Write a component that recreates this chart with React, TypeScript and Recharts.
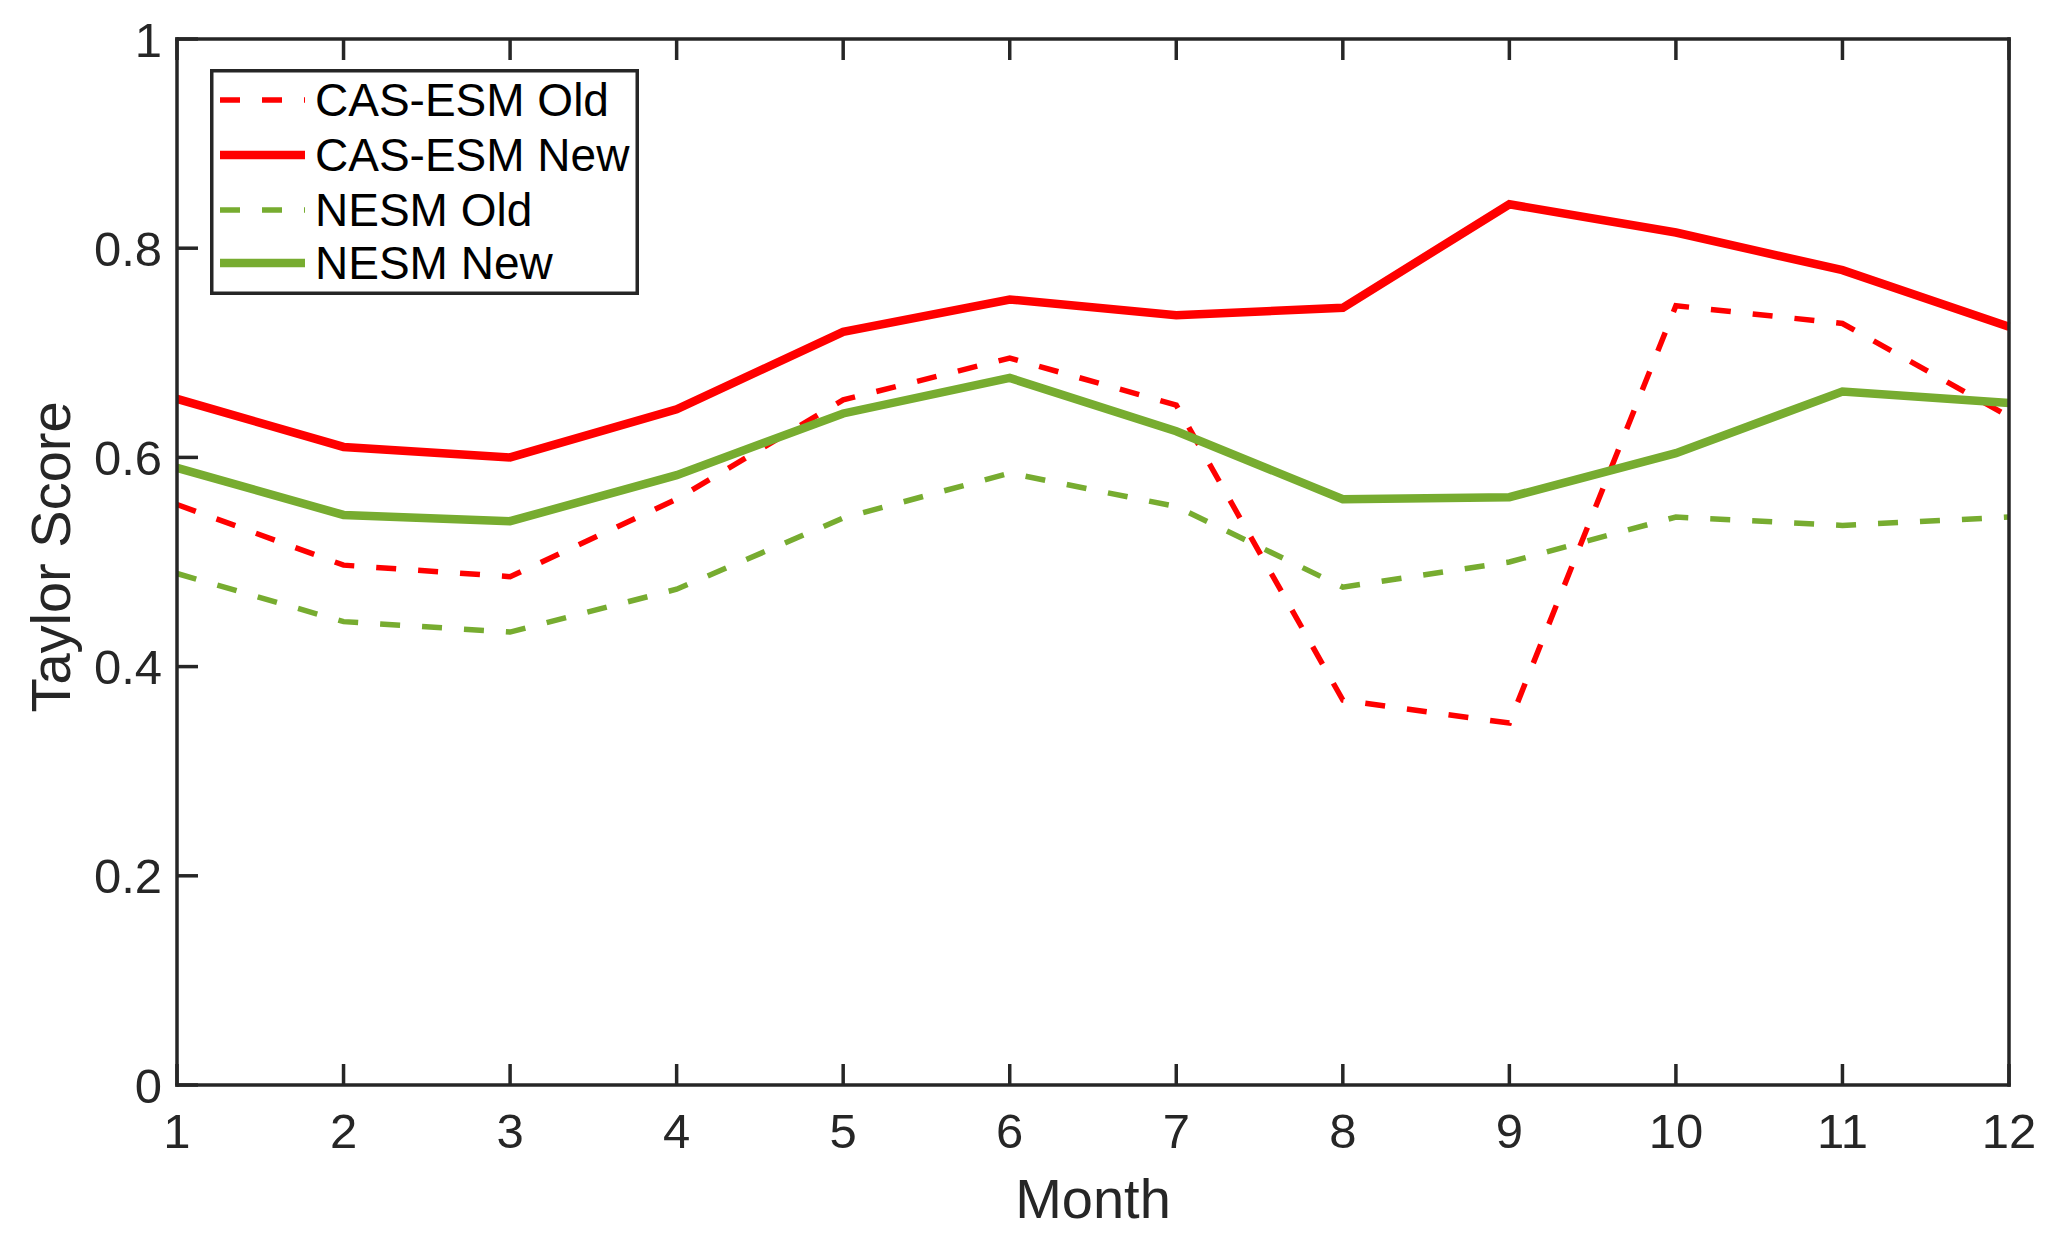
import React from 'react';
import { LineChart, Line, XAxis, YAxis, Legend } from 'recharts';

const months = [1, 2, 3, 4, 5, 6, 7, 8, 9, 10, 11, 12];
const casEsmOld = [0.555, 0.497, 0.486, 0.56, 0.655, 0.695, 0.65, 0.368, 0.346, 0.745, 0.728, 0.639];
const casEsmNew = [0.656, 0.61, 0.6, 0.646, 0.72, 0.751, 0.736, 0.743, 0.842, 0.815, 0.779, 0.725];
const nesmOld = [0.489, 0.443, 0.433, 0.474, 0.542, 0.585, 0.553, 0.476, 0.5, 0.543, 0.535, 0.543];
const nesmNew = [0.59, 0.545, 0.539, 0.583, 0.642, 0.676, 0.625, 0.56, 0.562, 0.604, 0.663, 0.652];
const yTicks = [0, 0.2, 0.4, 0.6, 0.8, 1];
const seriesNames = ['CAS-ESM Old', 'CAS-ESM New', 'NESM Old', 'NESM New'];
const xLabel = 'Month';
const yLabel = 'Taylor Score';

const data = months.map((m, i) => ({
  month: m,
  casOld: casEsmOld[i],
  casNew: casEsmNew[i],
  nesmOld: nesmOld[i],
  nesmNew: nesmNew[i],
}));

const AXIS = '#262626';
const RED = '#FF0000';
const GREEN = '#77AC30';
const FONT = '"Liberation Sans", Arial, Helvetica, sans-serif';
const TICK_LEN = 21;
const AXIS_W = 3.5;
const DASH = '20 22';
const SOLID_W = 8.5;
const DASH_W = 5.5;

const BottomTick = (props: any) => {
  const { x, y, payload } = props;
  return (
    <g>
      <line x1={x} x2={x} y1={y} y2={y - TICK_LEN} stroke={AXIS} strokeWidth={AXIS_W} />
      <text x={x} y={y + 63} textAnchor="middle" fontSize={49} fill={AXIS} fontFamily={FONT}>
        {String(payload.value)}
      </text>
    </g>
  );
};

const TopTick = (props: any) => {
  const { x, y } = props;
  return <line x1={x} x2={x} y1={y} y2={y + TICK_LEN} stroke={AXIS} strokeWidth={AXIS_W} />;
};

const LeftTick = (props: any) => {
  const { x, y, payload } = props;
  return (
    <g>
      <line x1={x} x2={x + TICK_LEN} y1={y} y2={y} stroke={AXIS} strokeWidth={AXIS_W} />
      <text x={x - 15} y={y} dy="0.36em" textAnchor="end" fontSize={49} fill={AXIS} fontFamily={FONT}>
        {String(payload.value)}
      </text>
    </g>
  );
};

const RightTick = (props: any) => {
  const { x, y } = props;
  return <line x1={x} x2={x - TICK_LEN} y1={y} y2={y} stroke={AXIS} strokeWidth={AXIS_W} />;
};

const XLabel = (props: any) => {
  const vb = props.viewBox || {};
  return (
    <text x={vb.x + vb.width / 2} y={vb.y + 133} textAnchor="middle" fontSize={56} fill={AXIS} fontFamily={FONT}>
      {xLabel}
    </text>
  );
};

const YLabel = (props: any) => {
  const vb = props.viewBox || {};
  const cx = vb.x + vb.width - 107;
  const cy = vb.y + vb.height / 2 - 5;
  return (
    <text
      x={cx}
      y={cy}
      transform={`rotate(-90, ${cx}, ${cy})`}
      textAnchor="middle"
      fontSize={56}
      fill={AXIS}
      fontFamily={FONT}
    >
      {yLabel}
    </text>
  );
};

const renderLegend = (props: any) => {
  const payload = [...(props.payload || [])].sort(
    (a: any, b: any) => seriesNames.indexOf(a.value) - seriesNames.indexOf(b.value)
  );
  const rows = [31, 86, 141, 194];
  return (
    <svg width={429} height={226} style={{ display: 'block' }}>
      <rect x={1.75} y={1.75} width={425.5} height={222.5} fill="#fff" stroke={AXIS} strokeWidth={AXIS_W} />
      {payload.map((entry: any, i: number) => {
        const p = entry.payload || {};
        const cy = rows[i];
        return (
          <g key={entry.value}>
            <line
              x1={10}
              x2={95}
              y1={cy}
              y2={cy}
              stroke={entry.color}
              strokeWidth={p.strokeWidth || DASH_W}
              strokeDasharray={p.strokeDasharray}
            />
            <text x={105} y={cy + 16} fontSize={46} fill="#000" fontFamily={FONT}>
              {entry.value}
            </text>
          </g>
        );
      })}
    </svg>
  );
};

const axisLineStyle = { stroke: AXIS, strokeWidth: AXIS_W, strokeLinecap: 'square' as const };

export default function App() {
  return (
    <div style={{ position: 'absolute', left: 0, top: 0, width: 2070, height: 1245, background: '#fff' }}>
      <LineChart
        width={2070}
        height={1245}
        data={data}
        margin={{ top: 29, right: 51, bottom: 100, left: 77 }}
      >
        <XAxis
          xAxisId={0}
          dataKey="month"
          type="number"
          domain={[1, 12]}
          ticks={months}
          height={60}
          tickSize={0}
          tickMargin={0}
          tickLine={false}
          axisLine={axisLineStyle}
          tick={<BottomTick />}
          interval={0}
          label={<XLabel />}
        />
        <XAxis
          xAxisId="top"
          orientation="top"
          dataKey="month"
          type="number"
          domain={[1, 12]}
          ticks={months}
          height={10}
          tickSize={0}
          tickMargin={0}
          tickLine={false}
          axisLine={axisLineStyle}
          tick={<TopTick />}
          interval={0}
        />
        <YAxis
          yAxisId={0}
          type="number"
          domain={[0, 1]}
          ticks={yTicks}
          width={100}
          tickSize={0}
          tickMargin={0}
          tickLine={false}
          axisLine={axisLineStyle}
          tick={<LeftTick />}
          interval={0}
          label={<YLabel />}
        />
        <YAxis
          yAxisId="right"
          orientation="right"
          type="number"
          domain={[0, 1]}
          ticks={yTicks}
          width={10}
          tickSize={0}
          tickMargin={0}
          tickLine={false}
          axisLine={axisLineStyle}
          tick={<RightTick />}
          interval={0}
        />
        <Legend
          layout="vertical"
          align="center"
          verticalAlign="middle"
          content={renderLegend}
          wrapperStyle={{ position: 'absolute', left: 210, top: 69, width: 429, height: 226 }}
        />
        <Line
          name={seriesNames[0]}
          dataKey="casOld"
          stroke={RED}
          strokeWidth={DASH_W}
          strokeDasharray={DASH}
          dot={false}
          activeDot={false}
          isAnimationActive={false}
        />
        <Line
          name={seriesNames[1]}
          dataKey="casNew"
          stroke={RED}
          strokeWidth={SOLID_W}
          dot={false}
          activeDot={false}
          isAnimationActive={false}
        />
        <Line
          name={seriesNames[2]}
          dataKey="nesmOld"
          stroke={GREEN}
          strokeWidth={DASH_W}
          strokeDasharray={DASH}
          dot={false}
          activeDot={false}
          isAnimationActive={false}
        />
        <Line
          name={seriesNames[3]}
          dataKey="nesmNew"
          stroke={GREEN}
          strokeWidth={SOLID_W}
          dot={false}
          activeDot={false}
          isAnimationActive={false}
        />
      </LineChart>
    </div>
  );
}
